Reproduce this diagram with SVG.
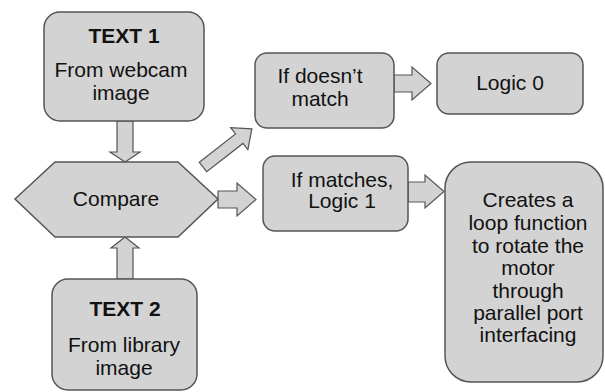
<svg xmlns="http://www.w3.org/2000/svg" width="605" height="392" viewBox="0 0 605 392">
<style>
.box{fill:#d3d3d3;stroke:#555;stroke-width:1.5}
.arr{fill:#d3d3d3;stroke:#555;stroke-width:1.2;stroke-linejoin:miter}
text{font-family:"Liberation Sans",Arial,sans-serif;font-size:21px;fill:#111;text-anchor:middle}
.b{font-weight:bold}
</style>
<rect width="605" height="392" fill="#fff"/>
<g id="connectors">
<polygon class="arr" points="117,121 133,121 133,152 140,152 125,162 110,152 117,152"/>
<polygon class="arr" points="117,279 133,279 133,248 139,248 125,237 111,248 117,248"/>
<polygon class="arr" transform="translate(203,167) rotate(-38)" points="0,-6 46,-6 46,-14 62,0 46,14 46,6 0,6"/>
<polygon class="arr" points="218,191 237,191 237,183 256,199.5 237,216 237,208 218,208"/>
<polygon class="arr" points="394,75 412,75 412,67 431,83.5 412,100 412,92 394,92"/>
<polygon class="arr" points="408,182 425,182 425,175 444,191.5 425,208 425,202 408,202"/>
</g>
<g id="text1">
<rect class="box" x="44" y="12" width="160" height="109" rx="16"/>
<text class="b" x="124" y="43">TEXT 1</text>
<text x="121" y="77">From webcam</text>
<text x="121" y="100">image</text>
</g>
<g id="compare">
<polygon class="box" points="15,199 55,162 178,162 218,199 178,237 55,237"/>
<text x="116" y="206">Compare</text>
</g>
<g id="text2">
<rect class="box" x="52" y="279" width="145" height="111" rx="16"/>
<text class="b" x="125" y="316">TEXT 2</text>
<text x="124" y="352">From library</text>
<text x="124" y="375">image</text>
</g>
<g id="nomatch">
<rect class="box" x="255" y="53" width="139" height="75" rx="12"/>
<text x="320" y="83">If doesn’t</text>
<text x="320" y="106">match</text>
</g>
<g id="matches">
<rect class="box" x="263" y="156" width="145" height="75" rx="12"/>
<text x="342" y="187">If matches,</text>
<text x="342" y="208">Logic 1</text>
</g>
<g id="logic0">
<rect class="box" x="437" y="53" width="146" height="61" rx="12"/>
<text x="510" y="90">Logic 0</text>
</g>
<g id="creates">
<rect class="box" x="445" y="162" width="158" height="220" rx="26"/>
<text x="528" y="207">Creates a</text>
<text x="528" y="230">loop function</text>
<text x="528" y="253">to rotate the</text>
<text x="528" y="275">motor</text>
<text x="528" y="298">through</text>
<text x="528" y="320">parallel port</text>
<text x="528" y="342">interfacing</text>
</g>
</svg>
